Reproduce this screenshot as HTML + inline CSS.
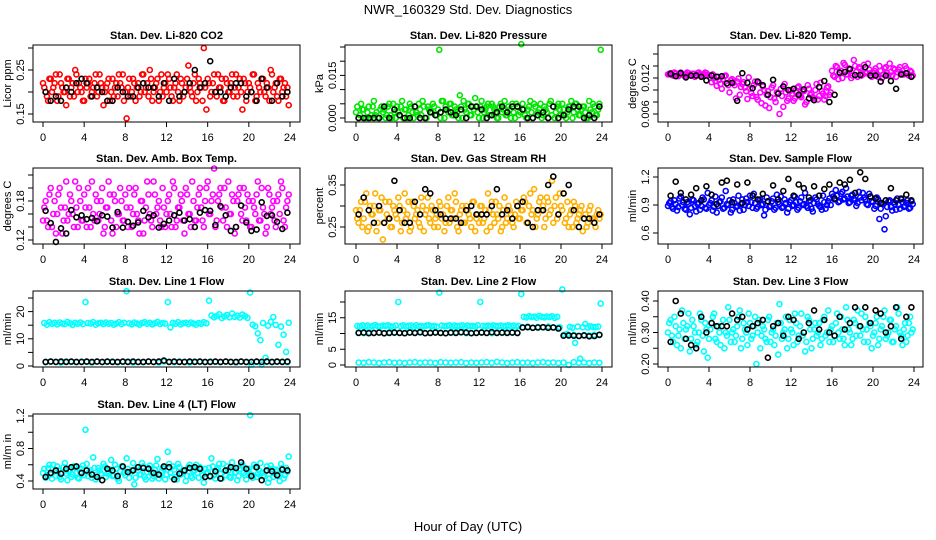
<!DOCTYPE html>
<html><head><meta charset="utf-8"><style>
html,body{margin:0;padding:0;background:#fff;}
svg{display:block;font-family:"Liberation Sans",sans-serif;}
</style></head><body>
<svg id="c" width="936" height="540" viewBox="0 0 936 540">
<text x="468" y="14" text-anchor="middle" font-size="13">NWR_160329  Std. Dev. Diagnostics</text>
<text x="468" y="531" text-anchor="middle" font-size="13">Hour of Day (UTC)</text>
</svg>
<script>
const xTicks=[0,4,8,12,16,20,24];
const co2Main=[0.21,0.19,0.23,0.20,0.22,0.18,0.24,0.21,0.20,0.23,0.19,0.22,0.25,0.20,0.21,0.18,0.23,0.22,0.19,0.21,0.24,0.20,0.22,0.17,0.21,0.23,0.20,0.19,0.22,0.24,0.21,0.18,0.14,0.23,0.20,0.22,0.21,0.19,0.24,0.20,0.22,0.25,0.18,0.21,0.23,0.20,0.19,0.22,0.24,0.21,0.18,0.22,0.20,0.23,0.19,0.21,0.26,0.20,0.22,0.18,0.23,0.21,0.30,0.16,0.22,0.20,0.24,0.19,0.21,0.23,0.18,0.22,0.20,0.24,0.21,0.19,0.23,0.16,0.22,0.20,0.21,0.24,0.18,0.22,0.20,0.23,0.19,0.21,0.25,0.20,0.22,0.18,0.23,0.21,0.19,0.17];
const co2Second=[0.22,0.20,0.18,0.23,0.21,0.24,0.19,0.22,0.20,0.17,0.23,0.21,0.19,0.24,0.22,0.20,0.18,0.21,0.23,0.20,0.22,0.19,0.24,0.21,0.20,0.22,0.18,0.23,0.21,0.19,0.22,0.24,0.20,0.21,0.19,0.23,0.18,0.22,0.20,0.24,0.21,0.19,0.23,0.20,0.22,0.18,0.24,0.21,0.20,0.23,0.19,0.21,0.24,0.18,0.22,0.20,0.23,0.21,0.19,0.24,0.20,0.22,0.18,0.21,0.23,0.19,0.22,0.20,0.24,0.21,0.18,0.23,0.20,0.22,0.19,0.24,0.21,0.20,0.23,0.18,0.22,0.20,0.24,0.19,0.21,0.23,0.20,0.22,0.18,0.24,0.21,0.19,0.23,0.20,0.22,0.21];
const co2Black=[0.20,0.18,0.19,0.18,0.21,0.20,0.22,0.23,0.22,0.19,0.21,0.20,0.18,0.18,0.21,0.20,0.19,0.19,0.21,0.22,0.21,0.21,0.19,0.22,0.18,0.23,0.19,0.20,0.22,0.25,0.21,0.22,0.27,0.20,0.20,0.19,0.21,0.22,0.22,0.19,0.20,0.18,0.23,0.21,0.18,0.22,0.19,0.20];
const presMain=[0.004,0.001,0.003,0.000,0.002,0.000,0.004,0.001,0.000,0.003,0.002,0.000,0.004,0.001,0.005,0.000,0.002,0.004,0.000,0.003,0.001,0.004,0.000,0.002,0.005,0.001,0.004,0.000,0.003,0.002,0.004,0.001,0.024,0.006,0.000,0.003,0.005,0.001,0.004,0.002,0.008,0.000,0.003,0.005,0.001,0.004,0.007,0.002,0.004,0.000,0.003,0.005,0.001,0.004,0.002,0.000,0.005,0.003,0.001,0.004,0.000,0.002,0.005,0.001,0.026,0.003,0.000,0.004,0.002,0.005,0.001,0.003,0.000,0.004,0.002,0.005,0.001,0.000,0.004,0.003,0.005,0.001,0.002,0.004,0.000,0.005,0.003,0.001,0.004,0.002,0.000,0.003,0.005,0.001,0.003,0.024];
const presSecond=[0.002,0.000,0.005,0.003,0.000,0.004,0.001,0.006,0.002,0.000,0.004,0.003,0.001,0.005,0.000,0.002,0.004,0.001,0.006,0.003,0.000,0.005,0.002,0.004,0.001,0.003,0.006,0.000,0.004,0.002,0.005,0.001,0.003,0.000,0.006,0.004,0.002,0.005,0.001,0.003,0.000,0.004,0.006,0.002,0.005,0.001,0.003,0.004,0.000,0.006,0.002,0.004,0.001,0.005,0.003,0.000,0.004,0.002,0.006,0.001,0.003,0.005,0.000,0.004,0.002,0.005,0.001,0.003,0.006,0.000,0.004,0.002,0.005,0.001,0.003,0.000,0.006,0.004,0.002,0.005,0.001,0.003,0.000,0.004,0.006,0.002,0.005,0.001,0.003,0.004,0.000,0.006,0.002,0.004,0.001,0.005];
const presBlack=[0,0,0,0,0,0.004,0,0.003,0.001,0,0,0.004,0,0,0.002,0.001,0.002,0.003,0.002,0.001,0.003,0,0.004,0.004,0.003,0,0.001,0.002,0.004,0.002,0.004,0.004,0.003,0,0,0.001,0.002,0,0.004,0,0.001,0.003,0.004,0.004,0,0.001,0,0.004];
const tempMain=[0.0127,0.0125,0.0129,0.0124,0.0128,0.0126,0.0123,0.0129,0.0125,0.0127,0.0122,0.0128,0.0126,0.0124,0.0129,0.0125,0.0120,0.0126,0.0115,0.0122,0.0110,0.0118,0.0124,0.0108,0.0116,0.0112,0.0086,0.0119,0.0105,0.0113,0.0098,0.0121,0.0095,0.0108,0.0088,0.0112,0.0078,0.0100,0.0092,0.0070,0.0104,0.0086,0.0096,0.0060,0.0090,0.0110,0.0082,0.0098,0.0094,0.0086,0.0104,0.0090,0.0098,0.0076,0.0108,0.0092,0.0088,0.0100,0.0084,0.0112,0.0094,0.0090,0.0106,0.0096,0.0124,0.0140,0.0118,0.0132,0.0145,0.0126,0.0136,0.0120,0.0150,0.0130,0.0138,0.0124,0.0142,0.0128,0.0134,0.0122,0.0132,0.0126,0.0140,0.0120,0.0136,0.0128,0.0144,0.0124,0.0134,0.0130,0.0138,0.0126,0.0140,0.0128,0.0132,0.0124];
const tempSecond=[0.0126,0.0128,0.0124,0.0127,0.0123,0.0129,0.0125,0.0126,0.0128,0.0124,0.0127,0.0125,0.0129,0.0123,0.0126,0.0128,0.0125,0.0113,0.0120,0.0107,0.0117,0.0102,0.0123,0.0111,0.0096,0.0118,0.0108,0.0114,0.0092,0.0110,0.0104,0.0085,0.0102,0.0090,0.0114,0.0084,0.0096,0.0106,0.0074,0.0098,0.0088,0.0108,0.0080,0.0094,0.0102,0.0072,0.0096,0.0086,0.0100,0.0082,0.0096,0.0106,0.0088,0.0098,0.0080,0.0102,0.0094,0.0086,0.0110,0.0090,0.0098,0.0084,0.0104,0.0092,0.0132,0.0122,0.0138,0.0128,0.0120,0.0142,0.0126,0.0134,0.0124,0.0140,0.0122,0.0136,0.0126,0.0130,0.0144,0.0128,0.0128,0.0136,0.0122,0.0132,0.0126,0.0138,0.0124,0.0130,0.0136,0.0122,0.0134,0.0128,0.0126,0.0136,0.0124,0.0130];
const tempBlack=[0.0127,0.0123,0.0128,0.0121,0.0124,0.0124,0.0122,0.0116,0.0124,0.0122,0.0123,0.0111,0.0112,0.0082,0.0128,0.0112,0.0103,0.0114,0.0108,0.0092,0.0117,0.0094,0.0106,0.0100,0.0102,0.0092,0.0101,0.0086,0.0083,0.0105,0.0115,0.0080,0.0092,0.0129,0.0130,0.0135,0.0125,0.0125,0.0138,0.0124,0.0124,0.0114,0.0124,0.0115,0.0102,0.0126,0.0128,0.0122];
const ambMain=[0.17,0.15,0.19,0.14,0.18,0.16,0.20,0.13,0.17,0.15,0.19,0.16,0.21,0.14,0.18,0.15,0.17,0.20,0.14,0.16,0.19,0.15,0.18,0.13,0.17,0.21,0.15,0.19,0.14,0.16,0.18,0.15,0.17,0.20,0.14,0.19,0.16,0.13,0.18,0.15,0.21,0.16,0.14,0.19,0.17,0.15,0.20,0.14,0.18,0.16,0.21,0.14,0.17,0.19,0.15,0.20,0.16,0.14,0.18,0.15,0.19,0.17,0.14,0.20,0.16,0.18,0.23,0.15,0.19,0.17,0.20,0.14,0.16,0.19,0.13,0.18,0.20,0.15,0.17,0.19,0.14,0.18,0.16,0.21,0.15,0.17,0.13,0.20,0.16,0.18,0.14,0.19,0.21,0.15,0.17,0.19];
const ambSecond=[0.15,0.18,0.14,0.20,0.16,0.13,0.19,0.17,0.15,0.21,0.16,0.18,0.14,0.17,0.20,0.15,0.19,0.14,0.17,0.21,0.15,0.18,0.16,0.20,0.14,0.17,0.19,0.13,0.18,0.16,0.20,0.15,0.19,0.14,0.17,0.16,0.20,0.15,0.18,0.13,0.17,0.19,0.15,0.21,0.16,0.18,0.14,0.17,0.16,0.19,0.14,0.20,0.15,0.17,0.18,0.13,0.19,0.16,0.21,0.15,0.17,0.20,0.15,0.18,0.21,0.16,0.19,0.14,0.18,0.20,0.15,0.17,0.21,0.16,0.18,0.14,0.19,0.16,0.20,0.15,0.18,0.14,0.17,0.19,0.15,0.20,0.16,0.14,0.19,0.17,0.15,0.18,0.16,0.20,0.14,0.18];
const ambBlack=[0.165,0.146,0.117,0.138,0.13,0.166,0.155,0.158,0.152,0.154,0.149,0.158,0.156,0.139,0.163,0.139,0.148,0.142,0.147,0.165,0.155,0.158,0.139,0.145,0.150,0.158,0.162,0.150,0.152,0.140,0.162,0.166,0.165,0.143,0.172,0.158,0.134,0.140,0.173,0.147,0.134,0.136,0.178,0.157,0.158,0.148,0.137,0.162];
const rhMain=[0.27,0.29,0.25,0.31,0.24,0.30,0.28,0.33,0.26,0.29,0.22,0.31,0.27,0.25,0.30,0.28,0.32,0.24,0.29,0.27,0.31,0.25,0.30,0.28,0.26,0.32,0.24,0.29,0.27,0.30,0.25,0.28,0.31,0.27,0.24,0.30,0.26,0.29,0.33,0.25,0.28,0.30,0.26,0.29,0.27,0.31,0.24,0.28,0.30,0.26,0.29,0.33,0.25,0.28,0.31,0.27,0.24,0.29,0.26,0.30,0.28,0.25,0.31,0.27,0.29,0.32,0.26,0.30,0.28,0.34,0.27,0.31,0.29,0.25,0.32,0.28,0.36,0.30,0.27,0.33,0.29,0.26,0.31,0.28,0.25,0.30,0.27,0.29,0.24,0.28,0.26,0.30,0.27,0.25,0.29,0.28];
const rhSecond=[0.29,0.26,0.31,0.27,0.33,0.25,0.28,0.30,0.24,0.29,0.32,0.26,0.28,0.31,0.25,0.29,0.27,0.30,0.26,0.33,0.28,0.24,0.31,0.27,0.29,0.25,0.30,0.28,0.32,0.26,0.29,0.27,0.25,0.30,0.28,0.26,0.32,0.29,0.27,0.31,0.24,0.29,0.26,0.30,0.28,0.25,0.31,0.27,0.26,0.30,0.27,0.24,0.29,0.31,0.26,0.28,0.30,0.25,0.32,0.27,0.29,0.26,0.28,0.30,0.27,0.29,0.31,0.26,0.33,0.29,0.25,0.28,0.32,0.30,0.27,0.31,0.29,0.26,0.32,0.28,0.30,0.33,0.27,0.25,0.29,0.31,0.26,0.28,0.30,0.27,0.25,0.29,0.27,0.26,0.28,0.27];
const rhBlack=[0.28,0.32,0.29,0.26,0.30,0.26,0.27,0.36,0.29,0.26,0.26,0.31,0.28,0.34,0.33,0.29,0.28,0.27,0.27,0.27,0.26,0.29,0.30,0.28,0.28,0.28,0.30,0.34,0.28,0.29,0.27,0.30,0.31,0.26,0.25,0.29,0.29,0.35,0.37,0.28,0.33,0.35,0.29,0.25,0.27,0.27,0.26,0.28];
const flowMain=[0.92,0.88,0.95,0.84,0.97,0.90,0.86,0.93,0.80,0.96,0.89,0.91,0.85,0.98,0.87,1.03,0.92,0.84,0.99,0.89,0.94,0.86,1.05,0.90,0.82,0.96,0.88,1.00,0.91,0.85,0.97,0.89,0.93,1.02,0.86,0.95,0.90,0.79,0.98,0.88,0.94,0.85,1.01,0.91,0.87,0.96,0.82,0.93,0.89,0.99,0.85,0.94,0.90,1.03,0.87,0.95,0.83,0.98,0.91,0.88,1.00,0.86,0.94,0.90,0.99,1.06,0.93,1.02,0.96,1.08,0.92,1.00,0.97,0.89,1.04,0.95,0.98,0.91,1.02,0.94,0.86,0.98,0.75,0.92,0.64,0.88,0.95,0.84,0.91,0.97,0.86,0.93,0.89,0.95,0.87,0.91];
const flowSecond=[0.89,0.94,0.86,0.91,0.88,0.99,0.93,0.85,0.91,0.87,0.95,0.83,0.92,0.89,0.96,0.86,0.90,0.95,0.88,0.82,0.93,0.98,0.87,0.91,0.95,0.85,0.92,0.89,0.84,0.96,0.90,0.93,1.00,0.87,0.92,0.88,0.96,0.91,0.85,0.94,0.89,0.97,0.87,0.93,0.99,0.88,0.92,0.86,0.95,0.90,0.93,0.87,0.98,0.91,0.89,0.94,0.86,0.92,0.96,0.89,0.85,0.93,0.90,0.97,1.02,0.96,1.00,0.94,1.04,0.97,0.99,0.93,1.01,0.95,0.92,0.98,1.03,0.96,0.90,0.99,0.93,0.89,0.96,0.86,0.91,0.78,0.94,0.88,0.93,0.85,0.90,0.96,0.88,0.92,0.86,0.94];
const flowBlack=[1.00,1.15,1.03,0.96,1.01,1.08,0.95,1.10,1.01,0.91,1.14,1.16,0.93,1.12,0.92,1.14,1.00,0.96,1.02,0.94,1.11,0.96,1.05,1.18,1.00,1.12,1.08,0.98,1.10,1.00,1.07,1.12,0.97,1.14,1.12,1.17,1.03,1.25,1.18,0.99,0.97,0.92,0.95,1.08,0.95,0.97,1.01,0.95];
const line1Upper=[15.8,15.2,16.1,15.5,15.9,15.3,16.0,15.6,15.4,16.2,15.7,15.1,15.9,15.5,16.0,15.4,23.5,15.8,15.6,16.1,15.2,15.7,15.9,15.4,16.0,15.5,15.8,15.2,15.6,16.1,15.4,15.9,27.5,15.7,15.3,16.0,15.6,15.2,15.8,16.1,15.5,15.9,15.3,15.7,16.2,15.4,15.8,15.6,23.5,14.2,15.9,15.5,16.1,15.3,15.7,15.9,15.4,16.0,15.6,15.2,15.8,15.5,16.1,15.7,24.0,18.6,17.9,18.4,19.0,17.6,18.2,18.8,17.9,19.3,18.1,18.5,17.8,18.9,18.3,17.7,27.0,15.2,14.6,12.0,9.5,15.8,3.0,14.8,16.2,18.0,15.1,7.8,14.5,11.5,5.2,15.9];
const line1Lower=[1.4,1.6,1.5,1.3,1.7,1.5,1.4,1.6,1.5,1.3,1.6,1.4,1.5,1.7,1.4,1.5,1.6,1.3,1.5,1.4,1.6,1.5,1.3,1.6,1.5,1.4,1.6,1.5,1.3,1.7,1.5,1.4,1.6,1.5,1.4,1.6,1.5,1.3,1.6,1.4,0.5,1.5,0.6,1.6,1.4,1.5,1.6,1.4];
const line1Black=[1.5,1.6,1.5,1.6,1.5,1.6,1.5,1.5,1.6,1.5,1.6,1.5,1.6,1.5,1.5,1.6,1.5,1.6,1.5,1.5,1.6,1.5,1.6,2.0,1.5,1.6,1.5,1.5,1.6,1.5,1.6,1.5,1.5,1.6,1.5,1.6,1.5,1.5,1.6,1.5,1.5,1.6,1.5,1.6,1.5,1.6,1.5,1.6];
const line2Upper=[12.4,12.2,12.6,12.3,12.5,12.1,12.4,12.7,12.3,12.2,12.5,12.4,12.6,12.3,12.1,12.5,20.0,12.3,12.6,12.2,12.4,12.5,12.1,12.6,12.3,12.4,12.2,12.5,12.6,12.3,12.4,12.2,23.0,12.5,12.3,12.4,12.6,12.2,12.5,12.3,12.4,12.6,12.1,12.5,12.3,12.4,12.2,12.6,20.0,12.4,12.3,12.5,12.2,12.6,12.4,12.3,12.5,12.2,12.4,12.6,12.3,12.5,12.2,12.4,22.5,15.3,15.1,15.5,15.2,15.4,15.0,15.6,15.3,15.1,15.4,15.2,15.5,15.0,15.3,12.0,24.0,9.6,9.8,12.1,11.8,7.0,12.2,2.0,12.0,13.0,11.9,12.3,12.1,12.0,12.2,19.5];
const line2Middle=[10.3,10.1,10.4,10.2,10.3,10.0,10.4,10.2,10.3,10.1,10.4,10.2,10.3,10.1,10.2,10.4,10.3,10.1,10.2,10.4,10.3,10.1,10.2,10.3,10.4,10.2,10.1,10.3,10.2,10.4,10.3,10.1,12.0,12.2,11.8,12.1,11.9,12.2,12.0,11.8,9.5,9.4,9.6,9.3,9.5,9.4,9.6,9.5];
const line2Lower=[0.8,0.7,0.9,0.8,0.6,0.8,0.9,0.7,0.8,0.6,0.8,0.9,0.7,0.8,0.8,0.6,0.9,0.8,0.7,0.8,0.9,0.6,0.8,0.7,0.8,0.9,0.7,1.0,0.8,0.6,0.8,0.9,0.7,0.8,0.6,0.8,0.9,0.7,0.8,0.6,0.8,0.0,0.9,0.7,0.8,0.6,0.8,0.7];
const line2Black=[10.2,10.3,10.1,10.2,10.3,10.1,10.2,10.3,10.2,10.1,10.3,10.2,10.4,10.1,10.2,10.3,10.2,10.1,10.3,10.2,10.4,10.3,10.1,10.2,10.3,10.2,10.4,10.2,10.3,10.2,10.3,10.2,11.9,12.0,11.8,11.9,12.0,11.8,11.9,11.6,9.3,9.4,9.3,9.2,9.4,9.1,9.2,9.6];
const line3Main=[0.33,0.29,0.35,0.26,0.31,0.37,0.28,0.32,0.24,0.34,0.30,0.27,0.36,0.29,0.33,0.22,0.31,0.35,0.28,0.32,0.26,0.34,0.30,0.38,0.27,0.31,0.29,0.35,0.25,0.33,0.30,0.36,0.28,0.32,0.20,0.34,0.29,0.31,0.27,0.35,0.30,0.26,0.33,0.39,0.28,0.31,0.25,0.34,0.30,0.36,0.27,0.32,0.29,0.24,0.35,0.31,0.28,0.33,0.30,0.26,0.34,0.29,0.37,0.31,0.27,0.33,0.30,0.35,0.28,0.38,0.31,0.26,0.34,0.29,0.32,0.36,0.27,0.31,0.33,0.25,0.30,0.35,0.28,0.32,0.37,0.29,0.34,0.27,0.31,0.38,0.30,0.26,0.33,0.29,0.35,0.31];
const line3Second=[0.30,0.34,0.27,0.32,0.29,0.25,0.33,0.31,0.36,0.28,0.32,0.26,0.30,0.34,0.24,0.31,0.28,0.33,0.36,0.27,0.30,0.32,0.25,0.29,0.34,0.30,0.27,0.32,0.37,0.28,0.31,0.26,0.33,0.29,0.35,0.30,0.25,0.32,0.28,0.34,0.27,0.31,0.29,0.23,0.33,0.30,0.35,0.28,0.31,0.26,0.33,0.29,0.36,0.30,0.27,0.34,0.25,0.31,0.29,0.33,0.28,0.35,0.30,0.27,0.32,0.29,0.36,0.28,0.31,0.26,0.34,0.30,0.28,0.33,0.37,0.29,0.31,0.35,0.27,0.32,0.29,0.33,0.26,0.31,0.35,0.28,0.30,0.34,0.27,0.32,0.36,0.29,0.31,0.27,0.33,0.30];
const line3Black=[0.27,0.40,0.36,0.28,0.26,0.25,0.35,0.30,0.33,0.32,0.32,0.32,0.36,0.34,0.35,0.31,0.32,0.33,0.34,0.22,0.32,0.33,0.29,0.35,0.34,0.28,0.30,0.33,0.37,0.31,0.34,0.30,0.29,0.35,0.31,0.33,0.38,0.32,0.38,0.33,0.37,0.36,0.30,0.32,0.38,0.28,0.35,0.38];
const line4Main=[0.55,0.47,0.60,0.43,0.52,0.58,0.45,0.50,0.62,0.41,0.54,0.48,0.57,0.44,0.51,0.59,1.03,0.46,0.53,0.69,0.42,0.56,0.49,0.61,0.45,0.52,0.66,0.47,0.55,0.40,0.58,0.50,0.68,0.44,0.53,0.36,0.57,0.48,0.62,0.45,0.51,0.59,0.43,0.54,0.67,0.47,0.56,0.42,0.76,0.50,0.58,0.45,0.61,0.48,0.53,0.40,0.57,0.46,0.52,0.60,0.44,0.55,0.38,0.49,0.56,0.68,0.47,0.54,0.61,0.43,0.52,0.58,0.45,0.63,0.50,0.41,0.55,0.60,0.47,0.53,1.21,0.44,0.57,0.49,0.62,0.46,0.52,0.38,0.59,0.45,0.54,0.48,0.61,0.43,0.56,0.70];
const line4Second=[0.50,0.44,0.56,0.48,0.60,0.46,0.53,0.42,0.57,0.49,0.52,0.45,0.58,0.50,0.43,0.55,0.47,0.61,0.51,0.44,0.56,0.48,0.53,0.41,0.58,0.49,0.54,0.46,0.60,0.43,0.52,0.57,0.47,0.55,0.50,0.62,0.44,0.53,0.48,0.58,0.42,0.56,0.50,0.46,0.59,0.43,0.52,0.55,0.48,0.61,0.45,0.54,0.42,0.57,0.49,0.52,0.46,0.60,0.44,0.53,0.50,0.57,0.47,0.55,0.51,0.45,0.58,0.43,0.56,0.49,0.61,0.47,0.53,0.44,0.57,0.51,0.46,0.59,0.50,0.42,0.55,0.48,0.60,0.45,0.53,0.50,0.46,0.58,0.43,0.55,0.49,0.52,0.40,0.56,0.47,0.51];
const line4Black=[0.45,0.50,0.53,0.49,0.55,0.57,0.58,0.50,0.53,0.48,0.45,0.41,0.55,0.53,0.46,0.58,0.51,0.53,0.57,0.56,0.55,0.50,0.48,0.58,0.57,0.42,0.49,0.53,0.56,0.57,0.55,0.45,0.46,0.52,0.43,0.53,0.57,0.56,0.63,0.55,0.46,0.57,0.41,0.53,0.52,0.47,0.54,0.53];

const co2Ticks=[0.15,0.20,0.25,0.30], co2Labels=["0.15","","0.25",""];
const presTicks=[0,0.005,0.010,0.015,0.020,0.025], presLabels=["0.000","","","0.015","",""];
const tempTicks=[0.006,0.008,0.010,0.012,0.014,0.016], tempLabels=["0.006","","","0.012","",""];
const ambTicks=[0.12,0.14,0.16,0.18,0.20,0.22], ambLabels=["0.12","","","0.18","",""];
const rhTicks=[0.25,0.30,0.35], rhLabels=["0.25","","0.35"];
const flowTicks=[0.6,0.9,1.2], flowLabels=["0.6","0.9","1.2"];
const line1Ticks=[0,5,10,15,20,25], line1Labels=["0","","10","","20",""];
const line2Ticks=[0,5,10,15,20], line2Labels=["0","5","","15",""];
const line3Ticks=[0.20,0.25,0.30,0.35,0.40], line3Labels=["0.20","","0.30","","0.40"];
const line4Ticks=[0.4,0.6,0.8,1.0,1.2], line4Labels=["0.4","","0.8","","1.2"];

const NS="http://www.w3.org/2000/svg";
const svg=document.getElementById('c');
const colL=[33,345,658], colR=[300,612,923], colX0=[43,356,668], colX24=[290,602,914];
const rowT=[45,168,291,414], rowB=[122,244,367,489];
function mk(tag,attrs,parent){const e=document.createElementNS(NS,tag);for(const k in attrs)e.setAttribute(k,attrs[k]);(parent||svg).appendChild(e);return e;}

const panels=[
 {id:'co2',title:'Stan. Dev. Li-820 CO2',yl:'Licor ppm',c:0,r:0,v0:0.15,p0:114,v1:0.30,p1:48,ticks:co2Ticks,labels:co2Labels,series:[[co2Main,'#ff0000',0.5],[co2Second,'#ff0000',0],[co2Black,'#000000',0.5]]},
 {id:'pressure',title:'Stan. Dev. Li-820 Pressure',yl:'kPa',c:1,r:0,v0:0,p0:118,v1:0.025,p1:47,ticks:presTicks,labels:presLabels,series:[[presMain,'#00e600',0.5],[presSecond,'#00e600',0],[presBlack,'#000000',0.5]]},
 {id:'temp',title:'Stan. Dev. Li-820 Temp.',yl:'degrees C',c:2,r:0,v0:0.006,p0:114,v1:0.016,p1:54,ticks:tempTicks,labels:tempLabels,series:[[tempMain,'#ff00ff',0.5],[tempSecond,'#ff00ff',0],[tempBlack,'#000000',0.5]]},
 {id:'amb-box',title:'Stan. Dev. Amb. Box Temp.',yl:'degrees C',c:0,r:1,v0:0.12,p0:240,v1:0.22,p1:175,ticks:ambTicks,labels:ambLabels,series:[[ambMain,'#ff00ff',0.5],[ambSecond,'#ff00ff',0],[ambBlack,'#000000',0.5]]},
 {id:'rh',title:'Stan. Dev. Gas Stream RH',yl:'percent',c:1,r:1,v0:0.25,p0:227,v1:0.35,p1:185,ticks:rhTicks,labels:rhLabels,series:[[rhMain,'#ffb000',0.5],[rhSecond,'#ffb000',0],[rhBlack,'#000000',0.5]]},
 {id:'sample-flow',title:'Stan. Dev. Sample Flow',yl:'ml/min',c:2,r:1,v0:0.6,p0:233,v1:1.2,p1:177,ticks:flowTicks,labels:flowLabels,series:[[flowMain,'#0000ff',0.5],[flowSecond,'#0000ff',0],[flowBlack,'#000000',0.5]]},
 {id:'line1',title:'Stan. Dev. Line 1 Flow',yl:'ml/min',c:0,r:2,v0:0,p0:366,v1:25,p1:298,ticks:line1Ticks,labels:line1Labels,series:[[line1Upper,'#00ffff',0.5],[line1Lower,'#00ffff',0.5],[line1Black,'#000000',0.5]]},
 {id:'line2',title:'Stan. Dev. Line 2 Flow',yl:'ml/min',c:1,r:2,v0:0,p0:365,v1:20,p1:302,ticks:line2Ticks,labels:line2Labels,series:[[line2Upper,'#00ffff',0.5],[line2Middle,'#00ffff',0.5],[line2Lower,'#00ffff',0.5],[line2Black,'#000000',0.5]]},
 {id:'line3',title:'Stan. Dev. Line 3 Flow',yl:'ml/min',c:2,r:2,v0:0.2,p0:364,v1:0.4,p1:301,ticks:line3Ticks,labels:line3Labels,series:[[line3Main,'#00ffff',0.5],[line3Second,'#00ffff',0],[line3Black,'#000000',0.5]]},
 {id:'line4',title:'Stan. Dev. Line 4 (LT) Flow',yl:'ml/m in',c:0,r:3,v0:0.4,p0:481,v1:1.2,p1:416,ticks:line4Ticks,labels:line4Labels,series:[[line4Main,'#00ffff',0.5],[line4Second,'#00ffff',0],[line4Black,'#000000',0.5]]}
];

panels.forEach(p=>{
 const L=colL[p.c],R=colR[p.c],T=rowT[p.r],B=rowB[p.r],x0=colX0[p.c],x24=colX24[p.c];
 const xs=t=>x0+(x24-x0)*t/24;
 const ys=v=>p.p0+(p.p1-p.p0)*(v-p.v0)/(p.v1-p.v0);
 const g=mk('g',{});
 
 
 const ttl=mk('text',{x:(L+R)/2,y:T-6,'text-anchor':'middle','font-size':'11','font-weight':'bold'},g);
 ttl.textContent=p.title;
 
 
 const yl=mk('text',{transform:`translate(${L-22},${(T+B)/2}) rotate(-90)`,'text-anchor':'middle','font-size':'11'},g);
 yl.textContent=p.yl;
 
 
 const plot=mk('g',{},g);
 
 
 p.series.forEach(([arr,col,off])=>{
  const n=arr.length;
  arr.forEach((v,i)=>{
   const t=(i+off)*24/n;
   const cc=mk('circle',{cx:xs(t).toFixed(1),cy:ys(v).toFixed(1),r:2.5,fill:'none',stroke:col,'stroke-width':1.6},plot);
   
   
  });
 });
 const box=mk('rect',{x:L,y:T,width:R-L,height:B-T,fill:'none',stroke:'#000','stroke-width':1},g);
 
 
 const ax=mk('g',{},g);
 
 
 p.ticks.forEach((v,i)=>{
  const y=ys(v);
  mk('line',{x1:L-5,x2:L,y1:y,y2:y,stroke:'#000'},ax);
  if(p.labels[i]){
   const tl=mk('text',{transform:`translate(${L-9},${y}) rotate(-90)`,'text-anchor':'middle','font-size':'11'},ax);
   tl.textContent=p.labels[i];
  }
 });
 const bx=mk('g',{},g);
 
 
 xTicks.forEach(t=>{
  const x=xs(t);
  mk('line',{x1:x,x2:x,y1:B,y2:B+5,stroke:'#000'},bx);
  const tl=mk('text',{x:x,y:B+19,'text-anchor':'middle','font-size':'11'},bx);
  tl.textContent=t;
 });
});
</script>
</body></html>
